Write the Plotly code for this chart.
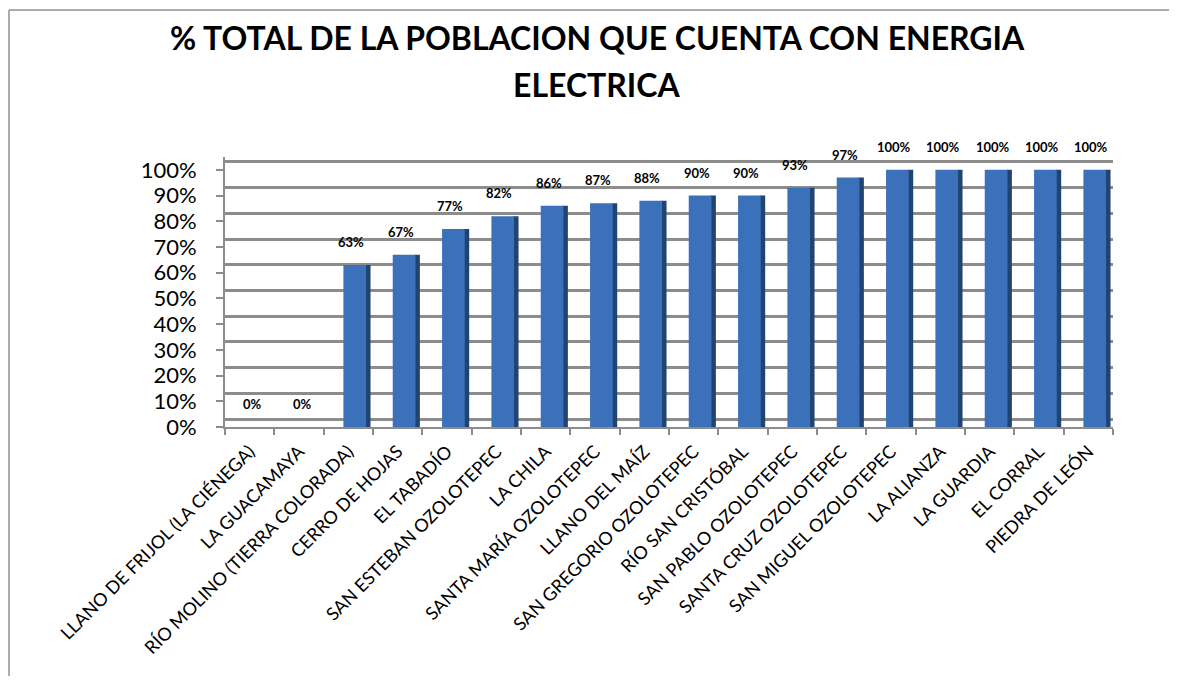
import plotly.graph_objects as go

categories = [
    "LLANO DE FRIJOL (LA CIÉNEGA)", "LA GUACAMAYA", "RÍO MOLINO (TIERRA COLORADA)",
    "CERRO DE HOJAS", "EL TABADÍO", "SAN ESTEBAN OZOLOTEPEC", "LA CHILA",
    "SANTA MARÍA OZOLOTEPEC", "LLANO DEL MAÍZ", "SAN GREGORIO OZOLOTEPEC",
    "RÍO SAN CRISTÓBAL", "SAN PABLO OZOLOTEPEC", "SANTA CRUZ OZOLOTEPEC",
    "SAN MIGUEL OZOLOTEPEC", "LA ALIANZA", "LA GUARDIA", "EL CORRAL", "PIEDRA DE LEÓN",
]
values = [0, 0, 63, 67, 77, 82, 86, 87, 88, 90, 90, 93, 97, 100, 100, 100, 100, 100]
y_ticks = [0, 10, 20, 30, 40, 50, 60, 70, 80, 90, 100]
y_tick_text = [f"{v}%" for v in y_ticks]
title_lines = ["% TOTAL DE LA POBLACION QUE CUENTA CON ENERGIA", "ELECTRICA"]

PAGE_W, PAGE_H = 1177, 684
PAGE = 8  # default page body margin
W, H = PAGE_W - 2 * PAGE, PAGE_H - 2 * PAGE  # figure fits the window, no scrollbars
# target page-pixel positions of the plot area
LEFT, RIGHT, TOP, BOTTOM = 225, 1113, 157, 427
ML = LEFT - PAGE
MR = W - (RIGHT - PAGE)
MT = TOP - PAGE
MB = H - (BOTTOM - PAGE)
FONT = "Lato, 'Open Sans', sans-serif"
GRID = "#8c8c8c"
FACE = "#3b70bb"
SIDE = "#21436f"

pw = W - ML - MR
ph = H - MT - MB
def px_x(p):  # page pixel -> paper
    return (p - PAGE - ML) / pw
def px_y(p):
    return (H - MB - (p - PAGE)) / ph

fig = go.Figure()
# dark right side of each bar (depth effect)
fig.add_trace(go.Bar(x=categories, y=values, offset=0.34, width=0.11,
                     marker=dict(color=SIDE, line=dict(width=0)),
                     hoverinfo="skip", showlegend=False))
# front face
fig.add_trace(go.Bar(x=categories, y=values, offset=-0.1, width=0.46,
                     marker=dict(color=FACE, line=dict(width=0)),
                     showlegend=False))

for c, v in zip(categories, values):
    fig.add_annotation(x=c, y=v, xref="x", yref="y", text=f"<b>{v}%</b>",
                       showarrow=False, yanchor="bottom", yshift=13, xshift=3,
                       font=dict(family=FONT, size=13, color="#000"))

for line, pyc in zip(title_lines, [36.5, 83.5]):
    fig.add_annotation(x=px_x(597), y=px_y(pyc + 1), xref="paper", yref="paper",
                       text=f"<b>{line}</b>", showarrow=False,
                       xanchor="center", yanchor="middle",
                       font=dict(family=FONT, size=32, color="#000"))

# outer frame: top and left edges only
frame = dict(color="#8f8f8f", width=1.5)
fig.add_shape(type="line", xref="paper", yref="paper",
              x0=px_x(PAGE + 1), x1=px_x(PAGE_W + 30), y0=px_y(10), y1=px_y(10), line=frame)
fig.add_shape(type="line", xref="paper", yref="paper",
              x0=px_x(PAGE + 1), x1=px_x(PAGE + 1), y0=px_y(10), y1=px_y(PAGE_H + 30), line=frame)

fig.update_layout(
    width=W, height=H,
    margin=dict(l=ML, r=MR, t=MT, b=MB, autoexpand=False),
    paper_bgcolor="white", plot_bgcolor="rgba(0,0,0,0)",
    barmode="overlay",
    showlegend=False,
    font=dict(family=FONT, color="#000"),
    xaxis=dict(
        type="category", tickangle=-45, tickson="boundaries", automargin=False,
        ticks="outside", ticklen=6, tickcolor=GRID, tickwidth=1.5,
        ticklabelstandoff=5,
        showline=True, linecolor=GRID, linewidth=2,
        showgrid=False, tickfont=dict(family=FONT, size=18, color="#000"),
        range=[-0.5, len(categories) - 0.5],
    ),
    yaxis=dict(
        range=[0, 105], tickvals=y_ticks, ticktext=y_tick_text, automargin=False,
        ticks="outside", ticklen=7, tickcolor=GRID, tickwidth=1.5,
        ticklabelstandoff=15,
        showline=True, linecolor=GRID, linewidth=2,
        showgrid=False, zeroline=False,
        tickfont=dict(family=FONT, size=22, color="#000"),
    ),
    yaxis2=dict(
        overlaying="y", side="left", range=[-3.1, 101.9], automargin=False,
        tickvals=y_ticks, showticklabels=False, ticks="",
        showgrid=True, gridcolor=GRID, gridwidth=2.5,
        showline=False, zeroline=False,
    ),
)
fig.add_trace(go.Scatter(x=[categories[0]], y=[None], yaxis="y2", mode="markers",
                         hoverinfo="skip", showlegend=False))

fig.write_html("out.html")
